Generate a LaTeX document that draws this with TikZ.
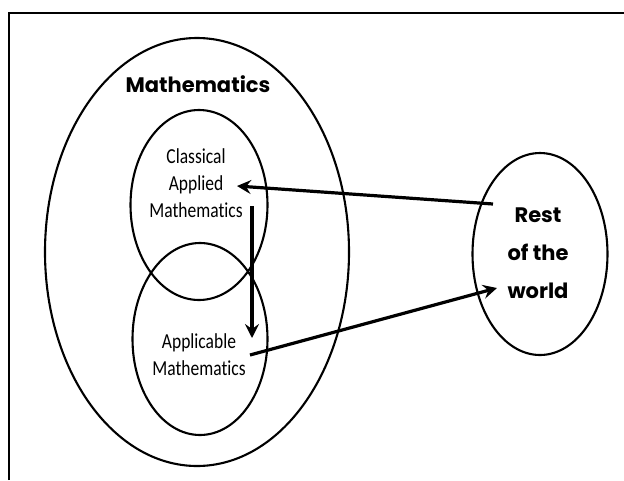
\documentclass[tikz,border=0pt]{standalone}
\usepackage{fontspec}
\setmainfont{Carlito}[Ligatures=NoCommon]
\newfontfamily\geo{Poppins}
\usetikzlibrary{shapes.geometric,arrows.meta}
\begin{document}
\begin{tikzpicture}[x=1pt,y=-1pt,
  ring/.style={draw,ellipse,line width=2.1pt,inner sep=0pt},
  arr/.style={line width=3.2pt,-{Stealth[length=14pt,width=14pt,inset=5pt]}},
  lbl/.style={align=center,font=\fontsize{17.5}{22}\selectfont,inner sep=0pt,yscale=1.22},
  big/.style={align=center,font=\geo\bfseries\fontsize{21}{38}\selectfont,inner sep=0pt}]
\useasboundingbox (0,0) rectangle (624,480);
\coordinate (fb) at (9,480);
\coordinate (ftl) at (9,13);
\coordinate (fr) at (624,13);
\draw[line width=2pt] (fb) -- (ftl) -- (fr);
\node[ring,minimum width=304pt,minimum height=428pt] (math) at (197,252) {};
\node[ring,minimum width=137pt,minimum height=190pt] (cam) at (199,205) {};
\node[ring,minimum width=135pt,minimum height=192pt] (am) at (200,339) {};
\node[ring,minimum width=135pt,minimum height=202pt] (rw) at (540,254) {};
\node[big,font=\geo\bfseries\fontsize{21}{28}\selectfont] (mt) at (198,84) {Mathematics};
\node[lbl] (camt) at (196,183) {Classical\\Applied\\Mathematics};
\node[lbl] (amt) at (199,355) {Applicable\\Mathematics};
\node[big] (rwt) at (538,253) {Rest\\of the\\world};
\coordinate (a1s) at (493,204);
\coordinate (a1e) at (237,186);
\coordinate (a2s) at (252,206);
\coordinate (a2e) at (252,338);
\coordinate (a3s) at (250,355);
\coordinate (a3e) at (497,288);
\draw[arr] (a1s) -- (a1e);
\draw[arr] (a2s) -- (a2e);
\draw[arr] (a3s) -- (a3e);
\end{tikzpicture}
\end{document}
